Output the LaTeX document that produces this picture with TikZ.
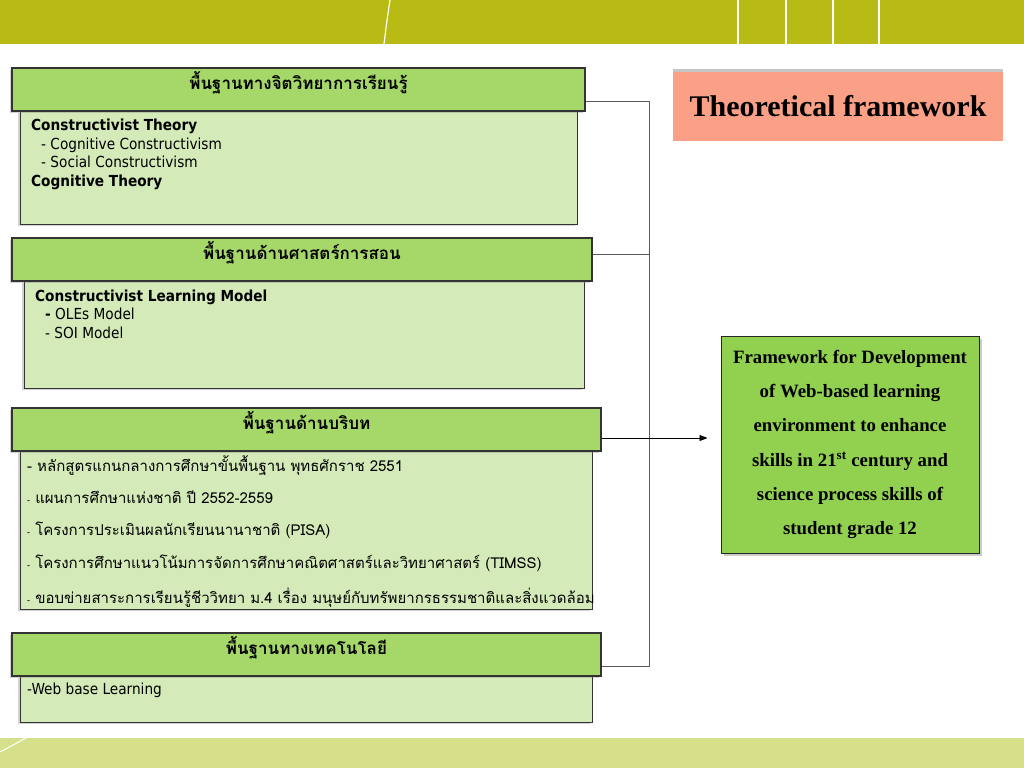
\documentclass[tikz,border=0pt]{standalone}
\usepackage{fontspec}
\setmainfont{Liberation Serif}
\newfontfamily\thai[Script=Thai]{Loma}
\newfontfamily\lat{DejaVu Sans Condensed}
\usetikzlibrary{shadows,arrows.meta}
\definecolor{topband}{RGB}{184,187,19}
\definecolor{botband}{RGB}{214,224,138}
\definecolor{hdrgreen}{RGB}{165,215,105}
\definecolor{bodygreen}{RGB}{212,234,184}
\definecolor{salmon}{RGB}{250,160,135}
\definecolor{resgreen}{RGB}{146,208,80}
\definecolor{linegray}{RGB}{90,90,90}
\newcommand{\hup}[1]{\raisebox{0pt}[0pt][0pt]{#1}}
\tikzset{
  hdr/.style={draw=black!80, line width=1.2pt, fill=hdrgreen, minimum height=43pt, inner sep=0pt,
    font=\thai\bfseries\fontsize{17}{20}\selectfont,
    drop shadow={shadow xshift=-2pt, shadow yshift=-2pt, opacity=0.35}},
  bodybox/.style={draw=black!80, line width=0.8pt, fill=bodygreen, inner sep=0pt,
    drop shadow={shadow xshift=-2pt, shadow yshift=-2pt, opacity=0.35}},
  ltxt/.style={anchor=base west, inner sep=0pt, font=\lat\fontsize{15.2}{18}\selectfont},
  ttxt/.style={anchor=base west, inner sep=0pt, font=\thai\fontsize{15}{18}\selectfont},
  conn/.style={draw=linegray, line width=0.9pt},
}
\begin{document}
\begin{tikzpicture}[x=1pt,y=-1pt]
\fill[white] (0,0) rectangle (1024,768);
\useasboundingbox (0,0) rectangle (1024,768);
% bands
\fill[topband] (0,0) rectangle (1024,44);
\draw[white, line width=1.2pt] (390,0) .. controls (387,20) .. (384,44);
\foreach \xx in {738,786,833,879} \draw[white, line width=1.2pt] (\xx,0) -- (\xx,44);
\fill[botband] (0,738) rectangle (1024,768);
\draw[white, line width=1pt] (0,752) -- (26,738);

% box 1
\node[bodybox, minimum width=557pt, minimum height=113pt] (b1) at (298.5,167.5) {};
\node[hdr, minimum width=573pt] (h1) at (298.5,89.5) {\hup{พื้นฐานทางจิตวิทยาการเรียนรู้}};
\node[ltxt] (t11) at (31,130) {\bfseries Constructivist Theory};
\node[ltxt] (t12) at (41,149) {- Cognitive Constructivism};
\node[ltxt] (t13) at (41,167) {- Social Constructivism};
\node[ltxt] (t14) at (31,186) {\bfseries Cognitive Theory};

% box 2
\node[bodybox, minimum width=560pt, minimum height=107pt] (b2) at (304,334.5) {};
\node[hdr, minimum width=580pt] (h2) at (302,259.5) {\hup{พื้นฐานด้านศาสตร์การสอน}};
\node[ltxt] (t21) at (35,301) {\bfseries Constructivist Learning Model};
\node[ltxt] (t22) at (45,319) {\textbf{-} OLEs Model};
\node[ltxt] (t23) at (45,338) {- SOI Model};

% box 3
\node[bodybox, minimum width=572pt, minimum height=158pt] (b3) at (306,530) {};
\node[hdr, minimum width=589pt] (h3) at (306.5,429.5) {\hup{พื้นฐานด้านบริบท}};
\node[ttxt] (t31) at (27,471) {- หลักสูตรแกนกลางการศึกษาขั้นพื้นฐาน พุทธศักราช 2551};
\node[ttxt] (t32) at (27,503) {{\fontsize{9}{10}\selectfont -} แผนการศึกษาแห่งชาติ ปี 2552-2559};
\node[ttxt] (t33) at (27,535) {{\fontsize{9}{10}\selectfont -} โครงการประเมินผลนักเรียนนานาชาติ (PISA)};
\node[ttxt] (t34) at (27,568) {{\fontsize{9}{10}\selectfont -} โครงการศึกษาแนวโน้มการจัดการศึกษาคณิตศาสตร์และวิทยาศาสตร์ (TIMSS)};
\node[ttxt] (t35) at (27,603) {{\fontsize{9}{10}\selectfont -} ขอบข่ายสาระการเรียนรู้ชีววิทยา ม.4 เรื่อง มนุษย์กับทรัพยากรธรรมชาติและสิ่งแวดล้อม};

% box 4
\node[bodybox, minimum width=572pt, minimum height=46pt] (b4) at (306,699) {};
\node[hdr, minimum width=589pt] (h4) at (306.5,654.5) {\hup{พื้นฐานทางเทคโนโลยี}};
\node[ltxt] (t41) at (27,694) {-Web base Learning};

% title
\node[fill=salmon, minimum width=330pt, minimum height=69pt, inner sep=0pt,
  drop shadow={shadow xshift=0pt, shadow yshift=3pt, opacity=0.45},
  font=\bfseries\fontsize{30}{34}\selectfont] (title) at (838,106.5) {\raisebox{-4pt}{Theoretical framework}};

% result
\node[draw=black!85, line width=1pt, fill=resgreen, minimum width=258pt, minimum height=217pt, inner sep=0pt,
  align=center, font=\bfseries\fontsize{18.8}{34.2}\selectfont,
  drop shadow={shadow xshift=3pt, shadow yshift=-3pt, opacity=0.4}] (res) at (850,444.5)
  {Framework for Development\\ of Web-based learning\\ environment to enhance\\ skills in 21\textsuperscript{st} century and\\ science process skills of\\ student grade 12};

% connectors
\coordinate (j1) at (649,101);
\coordinate (j2) at (649,254);
\coordinate (j4) at (649,666);
\draw[conn] (h1.east |- j1) -- (j1) -- (j4) -- (h4.east |- j4);
\draw[conn] (h2.east |- j2) -- (j2);
\draw[line width=0.9pt, -{Triangle[length=8pt,width=6pt]}, shorten >=13pt] ([yshift=-8.5pt]h3.east) -- ([yshift=-8.5pt]h3.east -| res.west);
\end{tikzpicture}
\end{document}
